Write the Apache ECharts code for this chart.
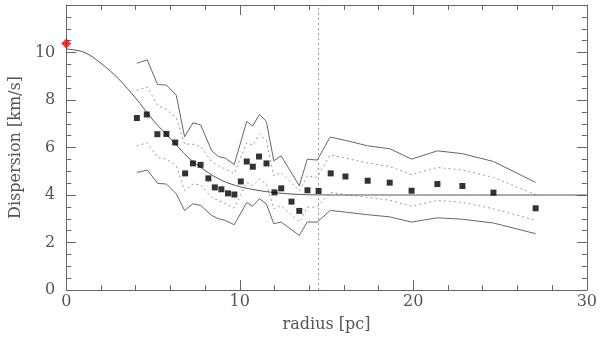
<!DOCTYPE html>
<html>
<head>
    <meta charset="UTF-8">
    <title>Dispersion vs radius</title>
    <script src="https://cdn.jsdelivr.net/npm/echarts@6/dist/echarts.min.js"></script>
    <style>
        body { margin: 0; background: #fff; }
        #main { width: 600px; height: 338px; }
    </style>
</head>
<body>
<div id="main"></div>
<script>
    // model curve
    var modelR = [0, 1, 2, 3, 4, 5, 6, 7, 8, 9, 10, 11, 12, 13, 14, 16, 20, 25, 30];
    var modelV = [10.15, 10.02, 9.55, 8.9, 8.08, 7.15, 6.38, 5.6, 5.03, 4.6, 4.35, 4.2, 4.1, 4.04, 4.01, 4.0, 4.0, 4.0, 4.0];

    // measured points
    var ptR = [4.07, 4.64, 5.25, 5.77, 6.28, 6.85, 7.30, 7.74, 8.19, 8.56, 8.94, 9.32, 9.69, 10.06, 10.40, 10.75, 11.11,
        11.54, 12.0, 12.39, 12.98, 13.43, 13.90, 14.54, 15.24, 16.09, 17.37, 18.64, 19.90, 21.39, 22.83, 24.62, 27.05];
    var ptV = [7.24, 7.39, 6.56, 6.57, 6.21, 4.91, 5.33, 5.27, 4.70, 4.32, 4.24, 4.07, 4.02, 4.57, 5.41, 5.19, 5.62,
        5.33, 4.11, 4.28, 3.72, 3.33, 4.20, 4.17, 4.91, 4.78, 4.60, 4.52, 4.18, 4.46, 4.38, 4.10, 3.44];

    // envelopes
    var envR = [4.07, 4.67, 5.26, 5.77, 6.34, 6.82, 7.30, 7.75, 8.38, 8.77, 9.17, 9.68, 10.40, 10.74, 11.13, 11.53,
        11.96, 12.38, 13.43, 13.89, 14.46, 15.21, 16.09, 17.37, 18.64, 19.90, 21.39, 22.83, 24.62, 27.05];
    var outerHi = [9.55, 9.69, 8.65, 8.63, 8.2, 6.45, 7.04, 6.95, 5.86, 5.62, 5.55, 5.28, 7.1, 6.9, 7.39, 7.1,
        5.44, 5.65, 4.39, 5.51, 5.47, 6.44, 6.3, 6.07, 5.95, 5.51, 5.86, 5.74, 5.41, 4.53];
    var innerHi = [8.40, 8.55, 7.78, 7.60, 7.25, 6.14, 6.14, 6.05, 5.40, 5.23, 5.09, 4.90, 6.2, 6.1, 6.56, 6.3,
        4.81, 4.95, 4.18, 4.81, 4.74, 5.69, 5.55, 5.35, 5.2, 4.86, 5.16, 5.05, 4.74, 4.02];
    var innerLo = [6.07, 6.2, 5.58, 5.51, 5.23, 4.18, 4.46, 4.43, 3.90, 3.77, 3.63, 3.45, 4.53, 4.39, 4.67, 4.46,
        3.42, 3.56, 2.86, 3.49, 3.49, 4.11, 4.02, 3.9, 3.78, 3.53, 3.77, 3.69, 3.42, 2.93];
    var outerLo = [4.95, 5.05, 4.49, 4.46, 4.05, 3.35, 3.63, 3.56, 3.14, 3.0, 2.93, 2.75, 3.68, 3.53, 3.84, 3.63,
        2.79, 2.86, 2.30, 2.86, 2.86, 3.35, 3.28, 3.17, 3.08, 2.86, 3.04, 2.98, 2.82, 2.37];

    var centerPt = [0, 10.38];
    var coreRadius = 14.5;

    function zip(xs, ys) {
        return xs.map(function (x, i) { return [x, ys[i]]; });
    }

    var font = 'DejaVu Serif';
    var axisCol = '#666';

    function axisBase(extra) {
        var a = {
            type: 'value',
            axisLine: { show: true, onZero: false, lineStyle: { color: axisCol, width: 1 } },
            axisTick: { show: true, inside: true, length: 10, lineStyle: { color: axisCol } },
            splitLine: { show: false },
            minorSplitLine: { show: false }
        };
        return Object.assign(a, extra);
    }

    var lineSolid = { color: '#666', width: 1 };
    var lineDot = { color: '#999', width: 1, type: [2, 3] };

    function env(name, ys, style) {
        return {
            name: name, type: 'line', data: zip(envR, ys), symbol: 'none',
            lineStyle: style, xAxisIndex: 0, yAxisIndex: 0, z: 2
        };
    }

    var option = {
        animation: false,
        grid: { left: 58, right: 12, top: 5, bottom: 48 },
        xAxis: [
            axisBase({
                min: 0, max: 30, interval: 10, position: 'bottom',
                minorTick: { show: true, splitNumber: 5, length: 5, lineStyle: { color: axisCol } },
                axisLabel: { fontFamily: font, fontSize: 16, color: '#555', margin: 4 },
                name: 'radius [pc]', nameLocation: 'middle', nameGap: 27,
                nameTextStyle: { fontFamily: font, fontSize: 16, color: '#555' }
            }),
            axisBase({
                min: 0, max: 30, interval: 10, position: 'top',
                minorTick: { show: true, splitNumber: 5, length: 5, lineStyle: { color: axisCol } },
                axisLabel: { show: false }
            })
        ],
        yAxis: [
            axisBase({
                min: 0, max: 12, interval: 2, position: 'left',
                minorTick: { show: true, splitNumber: 4, length: 5, lineStyle: { color: axisCol } },
                axisLabel: {
                    fontFamily: font, fontSize: 16, color: '#555', margin: 11,
                    formatter: function (v) { return v >= 12 ? '' : v; }
                },
                name: 'Dispersion [km/s]', nameLocation: 'middle', nameGap: 37,
                nameTextStyle: { fontFamily: font, fontSize: 16, color: '#555' }
            }),
            axisBase({
                min: 0, max: 12, interval: 2, position: 'right',
                minorTick: { show: true, splitNumber: 4, length: 5, lineStyle: { color: axisCol } },
                axisLabel: { show: false }
            })
        ],
        series: [
            {
                name: 'model', type: 'line', data: zip(modelR, modelV), smooth: 0.3,
                symbol: 'none', lineStyle: { color: '#555', width: 1 }, z: 3,
                markLine: {
                    silent: true, symbol: 'none', label: { show: false },
                    lineStyle: { color: '#999', width: 1, type: [2, 3] },
                    data: [{ xAxis: coreRadius }]
                }
            },
            env('outerHi', outerHi, lineSolid),
            env('innerHi', innerHi, lineDot),
            env('innerLo', innerLo, lineDot),
            env('outerLo', outerLo, lineSolid),
            {
                name: 'data', type: 'scatter', data: zip(ptR, ptV), symbol: 'rect',
                symbolSize: 6, itemStyle: { color: '#000' }, z: 5
            },
            {
                name: 'center', type: 'scatter', data: [centerPt], symbol: 'diamond',
                symbolSize: 10, itemStyle: { color: '#ee0000' }, clip: false, z: 6
            }
        ]
    };

    var myChart = echarts.init(document.getElementById('main'));
    myChart.setOption(option);
</script>
</body>
</html>
